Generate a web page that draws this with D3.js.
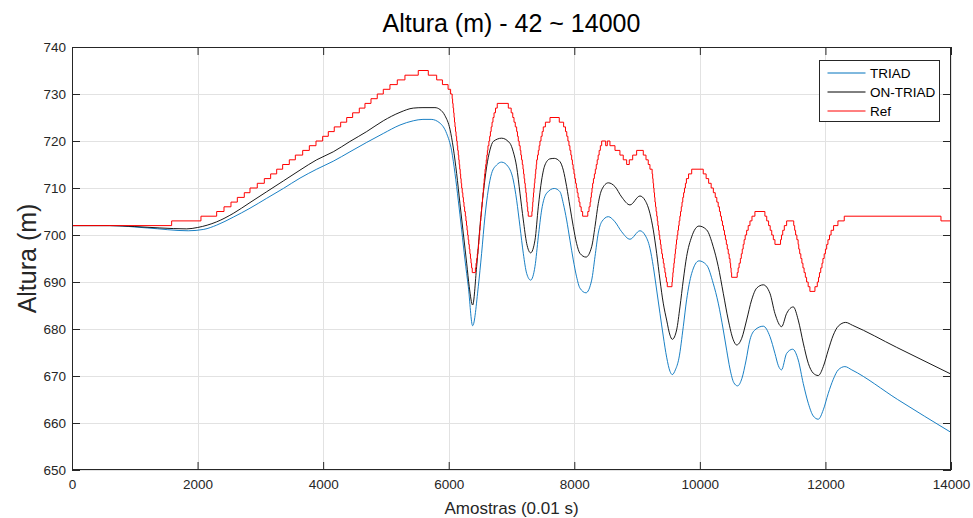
<!DOCTYPE html>
<html>
<head>
<meta charset="utf-8">
<script src="https://cdn.jsdelivr.net/npm/d3@7"></script>
<style>
  body { margin: 0; background: #fff; }
  svg { display: block; font-family: 'Liberation Sans', Arial, sans-serif; }
</style>
</head>
<body>
<svg id="board" width="973" height="518"></svg>
<script>
// [sample, altitude in m].
var xTicks = [0, 2000, 4000, 6000, 8000, 10000, 12000, 14000];
var yTicks = [650, 660, 670, 680, 690, 700, 710, 720, 730, 740];
var seriesNames = ['TRIAD', 'ON-TRIAD', 'Ref'];

var triadPts = [
  [0, 702], [600, 702], [1200, 701.5], [1852, 700.9], [2100, 701.2], [2304, 702.1],
  [2569, 703.8], [2835, 705.7], [3100, 707.8], [3366, 709.9], [3631, 712.1], [3897, 714],
  [4161, 715.7], [4427, 717.7], [4693, 719.7], [4958, 721.6], [5224, 723.4], [5436, 724.3],
  [5590, 724.6], [5720, 724.6], [5861, 723.8], [5967, 721.6], [6047, 717.9], [6100, 713.1],
  [6152, 707.4], [6206, 701.1], [6259, 694.7], [6312, 689], [6381, 680.7], [6471, 689],
  [6524, 696.1], [6577, 703.9], [6630, 709.6], [6683, 713.1], [6763, 714.9], [6843, 715.5],
  [6949, 714.5], [7028, 711.7], [7082, 707.4], [7135, 701.8], [7188, 696.1], [7242, 691.8],
  [7305, 690.4], [7374, 693.3], [7427, 699.6], [7480, 705.3], [7560, 708.9], [7682, 709.9],
  [7772, 709.2], [7825, 706.7], [7878, 703.2], [7931, 698.9], [7984, 694.7], [8037, 691.1],
  [8090, 688.7], [8186, 687.7], [8277, 690.4], [8330, 695.4], [8382, 700.4], [8436, 702.8],
  [8542, 703.9], [8648, 702.8], [8754, 700.7], [8887, 699.1], [9046, 700.9], [9126, 700],
  [9205, 697.2], [9258, 693.3], [9312, 688.3], [9365, 683.3], [9417, 678.5], [9471, 674],
  [9524, 671], [9561, 670.3], [9610, 671.3], [9667, 673.8], [9736, 680.5], [9789, 686.2],
  [9869, 691.8], [9986, 694.5], [10108, 693.6], [10213, 689.7], [10293, 685.5], [10373, 679.8],
  [10427, 675.5], [10480, 671.5], [10540, 668.6], [10600, 667.9], [10670, 669.5], [10734, 673.2],
  [10798, 677.7], [10877, 679.8], [11010, 680.6], [11116, 678.4], [11196, 674.8], [11250, 672.2],
  [11300, 671.3], [11382, 674.8], [11478, 675.7], [11567, 673.4], [11647, 668.4], [11727, 664.2],
  [11806, 661.5], [11886, 660.8], [11966, 662.8], [12045, 666.3], [12125, 669.3], [12204, 671.3],
  [12310, 672], [12420, 671.3], [13150, 665], [14000, 658]
];

var onTriadPts = [
  [0, 702], [600, 702], [1000, 701.8], [1400, 701.5], [1826, 701.3], [2001, 701.6],
  [2304, 702.8], [2569, 704.6], [2835, 706.9], [3100, 709.2], [3366, 711.5], [3631, 713.8],
  [3897, 716], [4161, 717.7], [4427, 719.9], [4693, 722], [4958, 724.3], [5224, 726.1],
  [5436, 727], [5590, 727.1], [5781, 727.1], [5861, 726.7], [5940, 725.4], [6020, 722.5],
  [6073, 718.5], [6126, 713.1], [6179, 706.7], [6232, 700.4], [6286, 694], [6327, 689],
  [6381, 685.1], [6445, 693.3], [6498, 701.8], [6551, 708.9], [6604, 714.5], [6657, 718.1],
  [6710, 719.9], [6843, 720.6], [6976, 719.5], [7028, 717.7], [7082, 714.5], [7135, 708.9],
  [7188, 703.2], [7242, 698.2], [7305, 696.2], [7374, 698.9], [7427, 706], [7480, 711.7],
  [7533, 714.9], [7613, 716.2], [7682, 716.3], [7772, 715.6], [7825, 713.8], [7878, 710.3],
  [7931, 706], [7984, 701.8], [8037, 698.2], [8090, 696.1], [8186, 695.3], [8277, 697.5],
  [8330, 701.8], [8382, 706.7], [8436, 709.6], [8542, 711.1], [8648, 710.3], [8754, 708.1],
  [8887, 706.4], [9046, 708.3], [9126, 707.4], [9205, 704.6], [9258, 701.1], [9312, 696.1],
  [9365, 690.4], [9417, 685.5], [9471, 681.9], [9524, 678.7], [9561, 677.8], [9630, 679.8],
  [9683, 684.7], [9736, 690.4], [9789, 695.4], [9869, 699.6], [9986, 701.9], [10108, 701.1],
  [10213, 697.5], [10293, 693.3], [10373, 687.6], [10453, 681.9], [10532, 677.7], [10586, 676.6],
  [10666, 678], [10745, 681.9], [10825, 686.2], [10905, 688.7], [11010, 689.4], [11116, 687.6],
  [11196, 683.3], [11302, 680.5], [11382, 683.3], [11488, 684.7], [11567, 681.9], [11647, 677],
  [11727, 672.7], [11806, 670.6], [11886, 670.1], [11966, 672], [12045, 675.5], [12125, 678.7],
  [12204, 680.6], [12322, 681.4], [12430, 680.8], [13134, 676.1], [14000, 670.4]
];

// Ref is quantised to 1 m: each entry is [sample where the level starts, level].
var refSteps = [
  [0, 702], [1587, 703], [2054, 704], [2304, 705], [2421, 706], [2532, 707], [2633, 708],
  [2744, 709], [2835, 710], [2951, 711], [3063, 712], [3164, 713], [3260, 714], [3355, 715],
  [3461, 716], [3557, 717], [3674, 718], [3780, 719], [3886, 720], [3992, 721], [4082, 722],
  [4177, 723], [4279, 724], [4375, 725], [4470, 726], [4576, 727], [4666, 728], [4762, 729],
  [4862, 730], [4958, 731], [5064, 732], [5181, 733], [5303, 734], [5515, 735],
  [5675, 734], [5808, 733], [5900, 732], [5990, 731], [6030, 730],
  [6055, 729], [6062, 728], [6070, 727], [6078, 726], [6085, 725], [6092, 724], [6100, 723],
  [6108, 722], [6117, 721], [6126, 720], [6135, 719], [6143, 718], [6152, 717], [6160, 716],
  [6167, 715], [6175, 714], [6183, 713], [6190, 712], [6198, 711], [6206, 710], [6215, 709],
  [6225, 708], [6234, 707], [6243, 706], [6253, 705], [6265, 704], [6274, 703], [6283, 702],
  [6292, 701], [6301, 700], [6310, 699], [6319, 698], [6328, 697], [6337, 696], [6346, 695],
  [6355, 694], [6364, 693], [6375, 692],
  [6425, 693], [6435, 694], [6445, 695], [6455, 696], [6465, 697], [6474, 698], [6480, 699],
  [6486, 700], [6493, 701], [6499, 702], [6505, 703], [6511, 704], [6518, 705], [6524, 706],
  [6531, 707], [6538, 708], [6545, 709], [6552, 710], [6559, 711], [6565, 712], [6572, 713],
  [6579, 714], [6589, 715], [6598, 716], [6607, 717], [6616, 718], [6625, 719], [6640, 720],
  [6652, 721], [6664, 722], [6676, 723], [6690, 724], [6705, 725], [6722, 726], [6745, 727],
  [6773, 728],
  [6949, 727], [6995, 726], [7020, 725], [7040, 724], [7060, 723], [7082, 722], [7095, 721],
  [7108, 720], [7122, 719], [7138, 718], [7149, 717], [7160, 716], [7172, 715], [7183, 714],
  [7192, 713], [7201, 712], [7210, 711], [7219, 710], [7228, 709], [7236, 708], [7243, 707],
  [7250, 706], [7258, 705], [7267, 704],
  [7325, 705], [7332, 706], [7338, 707], [7344, 708], [7350, 709], [7357, 710], [7364, 711],
  [7372, 712], [7379, 713], [7386, 714], [7394, 715], [7401, 716], [7414, 717], [7427, 718],
  [7440, 719], [7453, 720], [7470, 721], [7488, 722], [7506, 723], [7540, 724], [7613, 725],
  [7761, 724], [7830, 723], [7860, 722], [7880, 721], [7898, 720], [7915, 719], [7930, 718],
  [7945, 717], [7958, 716], [7970, 715], [7982, 714], [7995, 713], [8007, 712], [8020, 711],
  [8033, 710], [8046, 709], [8060, 708], [8075, 707], [8090, 706], [8110, 705], [8133, 704],
  [8215, 705], [8235, 706], [8252, 707], [8262, 708], [8272, 709], [8282, 710], [8292, 711],
  [8305, 712], [8320, 713], [8335, 714], [8350, 715], [8365, 716], [8380, 717], [8396, 718],
  [8415, 719], [8436, 720], [8500, 719], [8526, 720], [8568, 719], [8648, 718], [8727, 717],
  [8780, 716], [8834, 715], [8876, 716], [8930, 717], [8993, 718], [9099, 717], [9142, 716],
  [9178, 715], [9205, 714],
  [9240, 713], [9248, 712], [9255, 711], [9263, 710], [9270, 709], [9278, 708], [9285, 707],
  [9294, 706], [9303, 705], [9313, 704], [9322, 703], [9331, 702], [9341, 701], [9351, 700],
  [9361, 699], [9372, 698], [9382, 697], [9393, 696], [9405, 695], [9418, 694], [9430, 693],
  [9443, 692], [9455, 691], [9467, 690], [9481, 689],
  [9556, 690], [9563, 691], [9570, 692], [9577, 693], [9586, 694], [9594, 695], [9603, 696],
  [9611, 697], [9620, 698], [9628, 699], [9638, 700], [9649, 701], [9660, 702], [9670, 703],
  [9681, 704], [9692, 705], [9704, 706], [9716, 707], [9728, 708], [9741, 709], [9755, 710],
  [9770, 711], [9786, 712], [9820, 713], [9870, 714],
  [10054, 713], [10100, 712], [10140, 711], [10180, 710], [10215, 709], [10245, 708],
  [10270, 707], [10292, 706], [10312, 705], [10328, 704], [10344, 703], [10360, 702],
  [10377, 701], [10392, 700], [10407, 699], [10422, 698], [10437, 697], [10452, 696],
  [10467, 695], [10481, 694], [10490, 693], [10498, 692], [10506, 691],
  [10595, 692], [10610, 693], [10625, 694], [10645, 695], [10660, 696], [10675, 697],
  [10690, 698], [10705, 699], [10722, 700], [10745, 701], [10770, 702], [10798, 703],
  [10830, 704], [10877, 705],
  [11036, 704], [11065, 703], [11095, 702], [11120, 701], [11145, 700], [11170, 699], [11196, 698],
  [11285, 699], [11300, 700], [11320, 701], [11345, 702], [11382, 703],
  [11495, 702], [11510, 701], [11525, 700], [11545, 699], [11565, 698], [11575, 697],
  [11590, 696], [11608, 695], [11625, 694], [11642, 693], [11660, 692], [11680, 691],
  [11700, 690], [11725, 689], [11753, 688],
  [11833, 689], [11870, 690], [11890, 691], [11905, 692], [11925, 693], [11945, 694],
  [11960, 695], [11980, 696], [12000, 697], [12020, 698], [12040, 699], [12065, 700],
  [12090, 701], [12130, 702], [12199, 703], [12300, 704], [13840, 703], [14000, 703]
];

var board = d3.select('#board');
var plot = { left: 72, right: 951, top: 47, bottom: 470 };
var axisColor = '#262626';

var x = d3.scaleLinear().domain([0, 14000]).range([plot.left, plot.right]);
var y = d3.scaleLinear().domain([650, 740]).range([plot.bottom, plot.top]);

drawGrid();
drawSeries();
drawAxes();
drawLegend();
drawLabels();

function drawGrid() {
  var grid = board.append('g').classed('grid', true);
  grid
    .selectAll('.vgrid')
    .data(xTicks)
    .enter()
    .append('line')
    .attr('x1', d => Math.round(x(d)) + 0.5)
    .attr('x2', d => Math.round(x(d)) + 0.5)
    .attr('y1', plot.top)
    .attr('y2', plot.bottom);
  grid
    .selectAll('.hgrid')
    .data(yTicks)
    .enter()
    .append('line')
    .attr('x1', plot.left)
    .attr('x2', plot.right)
    .attr('y1', d => Math.round(y(d)) + 0.5)
    .attr('y2', d => Math.round(y(d)) + 0.5);
  grid.selectAll('line').attr('stroke', '#e2e2e2').attr('stroke-width', 1);
}

function drawSeries() {
  var smooth = d3
    .line()
    .x(d => x(d[0]))
    .y(d => y(d[1]))
    .curve(d3.curveMonotoneX);
  var steps = d3
    .line()
    .x(d => x(d[0]))
    .y(d => y(d[1]))
    .curve(d3.curveStepAfter);

  var lines = board.append('g').classed('series', true);
  lines
    .append('path')
    .attr('d', smooth(triadPts))
    .attr('fill', 'none')
    .attr('stroke', '#0072BD')
    .attr('stroke-width', 0.9);
  lines
    .append('path')
    .attr('d', smooth(onTriadPts))
    .attr('fill', 'none')
    .attr('stroke', '#000')
    .attr('stroke-width', 0.9);
  lines
    .append('path')
    .attr('d', steps(refSteps))
    .attr('fill', 'none')
    .attr('stroke', '#ff0000')
    .attr('stroke-width', 1);
}

function drawAxes() {
  var fmt = d3.format('d');
  var bottom = board
    .append('g')
    .attr('transform', `translate(0, ${plot.bottom})`)
    .call(d3.axisBottom(x).tickValues(xTicks).tickFormat(fmt).tickSize(-8).tickPadding(9));
  var left = board
    .append('g')
    .attr('transform', `translate(${plot.left}, 0)`)
    .call(d3.axisLeft(y).tickValues(yTicks).tickFormat(fmt).tickSize(-8).tickPadding(6));
  var top = board
    .append('g')
    .attr('transform', `translate(0, ${plot.top})`)
    .call(d3.axisTop(x).tickValues(xTicks).tickFormat('').tickSize(-8));
  var right = board
    .append('g')
    .attr('transform', `translate(${plot.right}, 0)`)
    .call(d3.axisRight(y).tickValues(yTicks).tickFormat('').tickSize(-8));

  [bottom, left, top, right].forEach(function(axis) {
    axis.select('.domain').remove();
    axis.selectAll('line').attr('stroke', axisColor);
    axis
      .selectAll('text')
      .attr('fill', axisColor)
      .style('font-size', '13.5px')
      .style('font-family', "'Liberation Sans', Arial, sans-serif");
  });

  board
    .append('rect')
    .attr('x', plot.left + 0.5)
    .attr('y', plot.top + 0.5)
    .attr('width', plot.right - plot.left - 1)
    .attr('height', plot.bottom - plot.top - 1)
    .attr('fill', 'none')
    .attr('stroke', axisColor)
    .attr('stroke-width', 1);
}

function drawLegend() {
  var colors = ['#0072BD', '#000', '#ff0000'];
  var legend = board.append('g').attr('transform', 'translate(819.5, 60.5)');
  legend
    .append('rect')
    .attr('width', 120)
    .attr('height', 61)
    .attr('fill', '#fff')
    .attr('stroke', axisColor)
    .attr('stroke-width', 1);

  var rows = legend
    .selectAll('.entry')
    .data(seriesNames)
    .enter()
    .append('g')
    .classed('entry', true)
    .attr('transform', (d, i) => `translate(0, ${12.5 + i * 19})`);
  rows
    .append('line')
    .attr('x1', 8)
    .attr('x2', 46)
    .attr('stroke', (d, i) => colors[i])
    .attr('stroke-width', 1);
  rows
    .append('text')
    .attr('x', 50.5)
    .attr('dy', '0.36em')
    .attr('fill', '#000')
    .style('font-size', '13.5px')
    .text(d => d);
}

function drawLabels() {
  var mid = (plot.left + plot.right) / 2;
  board
    .append('text')
    .attr('x', mid)
    .attr('y', 32)
    .attr('text-anchor', 'middle')
    .attr('fill', '#000')
    .style('font-size', '25px')
    .text('Altura (m) - 42 ~ 14000');
  board
    .append('text')
    .attr('x', mid)
    .attr('y', 514)
    .attr('text-anchor', 'middle')
    .attr('fill', axisColor)
    .style('font-size', '17px')
    .text('Amostras (0.01 s)');
  board
    .append('text')
    .attr('transform', `translate(36, ${(plot.top + plot.bottom) / 2}) rotate(-90)`)
    .attr('text-anchor', 'middle')
    .attr('fill', axisColor)
    .style('font-size', '25px')
    .text('Altura (m)');
}
</script>
</body>
</html>
